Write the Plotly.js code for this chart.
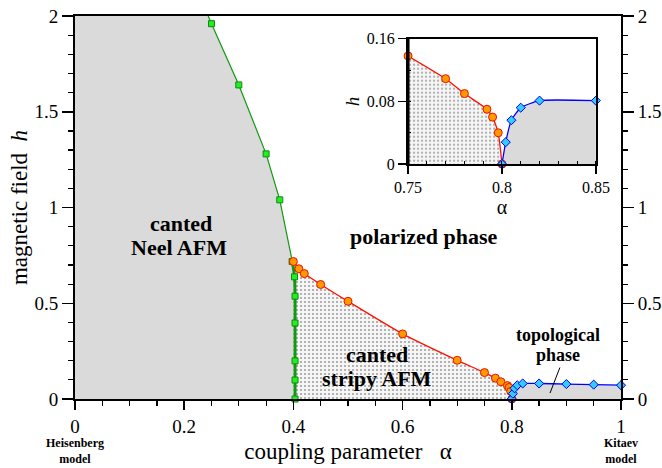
<!DOCTYPE html>
<html>
<head>
<meta charset="utf-8">
<script src="https://cdn.plot.ly/plotly-3.0.1.min.js"></script>
<style>html,body{margin:0;padding:0;background:#fff;}#chart{width:662px;height:468px;}</style>
</head>
<body>
<div id="chart"></div>
<script>
// canted Neel AFM upper boundary (first point: where the line meets the top border)
const alphaNeel = [0.244, 0.25, 0.30, 0.35, 0.375, 0.398];
const hNeel = [2.0, 1.96, 1.64, 1.28, 1.04, 0.718];
// canted Neel / canted stripy boundary (vertical)
const alphaNeelVert = [0.398, 0.402, 0.403, 0.403, 0.403, 0.403, 0.403];
const hNeelVert = [0.718, 0.638, 0.537, 0.397, 0.199, 0.099, 0];
// canted stripy AFM upper boundary
const alphaStripy = [0.40, 0.41, 0.42, 0.45, 0.50, 0.60, 0.70, 0.75, 0.77, 0.78, 0.792, 0.795, 0.798, 0.80];
const hStripy = [0.718, 0.68, 0.655, 0.598, 0.51, 0.34, 0.202, 0.138, 0.109, 0.090, 0.070, 0.060, 0.040, 0];
// topological phase boundary
const alphaTopo = [0.80, 0.802, 0.805, 0.81, 0.82, 0.85, 0.90, 0.95, 1.00];
const hTopo = [0, 0.028, 0.056, 0.072, 0.081, 0.081, 0.078, 0.075, 0.072];

const insetRange = [0.75, 0.85];
function inInset(xs, ys) {
  const ox = [], oy = [];
  xs.forEach((x, i) => { if (x >= insetRange[0] - 1e-9 && x <= insetRange[1] + 1e-9) { ox.push(x); oy.push(ys[i]); } });
  return [ox, oy];
}
const [sxI, shI] = inInset(alphaStripy, hStripy);
const [txI, thI] = inInset(alphaTopo, hTopo);

const neelFillX = alphaNeel.concat(alphaNeelVert.slice(1));
const neelFillH = hNeel.concat(hNeelVert.slice(1));

const GRAY = '#dadada';
const dotPattern = {shape: '.', size: 4, solidity: 0.22, fgcolor: '#a0a0a0', bgcolor: '#f6f6f6', fillmode: 'replace'};
const greenMarker = {symbol: 'square', size: 6, color: '#22ee22', line: {color: '#118811', width: 1}};
const redMarker = {symbol: 'circle', size: 8, color: '#ff9900', line: {color: '#ee1100', width: 1}};
const blueMarker = {symbol: 'diamond', size: 7, color: '#33ccff', line: {color: '#0000ee', width: 1}};

const traces = [
  // main fills
  {x: neelFillX, y: neelFillH, mode: 'lines', fill: 'tozerox', fillcolor: GRAY, line: {width: 0}, hoverinfo: 'skip', xaxis: 'x', yaxis: 'y'},
  {x: alphaStripy, y: hStripy, mode: 'lines', fill: 'tozeroy', fillpattern: dotPattern, fillcolor: '#f6f6f6', line: {width: 0, shape: 'spline', smoothing: 0.5}, hoverinfo: 'skip', xaxis: 'x', yaxis: 'y'},
  {x: alphaTopo, y: hTopo, mode: 'lines', fill: 'tozeroy', fillcolor: GRAY, line: {width: 0, shape: 'spline', smoothing: 0.5}, hoverinfo: 'skip', xaxis: 'x', yaxis: 'y'},
  // main lines
  {x: alphaNeel, y: hNeel, mode: 'lines', line: {color: '#119911', width: 1.2}, xaxis: 'x', yaxis: 'y'},
  {x: alphaNeelVert, y: hNeelVert, mode: 'lines', line: {color: '#119911', width: 3, shape: 'spline'}, xaxis: 'x', yaxis: 'y'},
  {x: alphaNeel.slice(1), y: hNeel.slice(1), mode: 'markers', marker: greenMarker, cliponaxis: false, xaxis: 'x', yaxis: 'y'},
  {x: alphaNeelVert, y: hNeelVert, mode: 'markers', marker: greenMarker, cliponaxis: false, xaxis: 'x', yaxis: 'y'},
  {x: alphaStripy, y: hStripy, mode: 'lines+markers', line: {color: '#ff1100', width: 1.3, shape: 'spline', smoothing: 0.5}, marker: redMarker, cliponaxis: false, xaxis: 'x', yaxis: 'y'},
  // drawn against the right-hand axis (same 0–2 scale) so that axis is rendered
  {x: alphaTopo, y: hTopo, mode: 'lines+markers', line: {color: '#0000ff', width: 1.3, shape: 'spline', smoothing: 0.5}, marker: blueMarker, cliponaxis: false, xaxis: 'x', yaxis: 'y2'},
  // inset
  {x: sxI, y: shI, mode: 'lines', fill: 'tozeroy', fillpattern: dotPattern, fillcolor: '#f6f6f6', line: {width: 0, shape: 'spline', smoothing: 0.5}, hoverinfo: 'skip', xaxis: 'x3', yaxis: 'y3'},
  {x: txI, y: thI, mode: 'lines', fill: 'tozeroy', fillcolor: GRAY, line: {width: 0, shape: 'spline', smoothing: 0.5}, hoverinfo: 'skip', xaxis: 'x3', yaxis: 'y3'},
  {x: sxI, y: shI, mode: 'lines+markers', line: {color: '#ff1100', width: 1.3, shape: 'spline', smoothing: 0.5}, marker: redMarker, cliponaxis: false, xaxis: 'x3', yaxis: 'y3'},
  {x: txI, y: thI, mode: 'lines+markers', line: {color: '#0000ff', width: 1.3, shape: 'spline', smoothing: 0.5}, marker: blueMarker, cliponaxis: false, xaxis: 'x3', yaxis: 'y3'}
];

const SERIF = 'Liberation Serif, Times New Roman, serif';
const tickFont = {family: SERIF, size: 19, color: '#000'};
const boldFont = (s) => ({family: SERIF, size: s, color: '#000'});

const layout = {
  width: 662, height: 468,
  margin: {l: 75, r: 41, t: 16, b: 69, pad: 0},
  paper_bgcolor: '#fff', plot_bgcolor: '#fff',
  showlegend: false,
  font: {family: SERIF, color: '#000'},
  xaxis: {
    range: [0, 1], dtick: 0.2, tick0: 0, showgrid: false, zeroline: false,
    showline: true, linecolor: '#000', linewidth: 2, mirror: true,
    ticks: 'outside', ticklen: 9, tickwidth: 1.5, tickcolor: '#000',
    minor: {dtick: 0.05, ticks: 'outside', ticklen: 5, tickwidth: 1.2, tickcolor: '#000', showgrid: false},
    tickfont: tickFont,
    title: {text: 'coupling parameter \u00a0\u00a0α', font: {family: SERIF, size: 23, color: '#000'}, standoff: 7},
    domain: [0, 1], anchor: 'y'
  },
  yaxis: {
    range: [0, 2], dtick: 0.5, tick0: 0, showgrid: false, zeroline: false,
    showline: true, linecolor: '#000', linewidth: 2,
    ticks: 'outside', ticklen: 11, tickwidth: 1.5, tickcolor: '#000',
    minor: {dtick: 0.1, ticks: 'outside', ticklen: 5, tickwidth: 1.2, tickcolor: '#000', showgrid: false},
    tickfont: tickFont,
    title: {text: 'magnetic field \u00a0<i>h</i>', font: {family: SERIF, size: 23, color: '#000'}, standoff: 0},
    anchor: 'x'
  },
  yaxis2: {
    range: [0, 2], dtick: 0.5, tick0: 0, overlaying: 'y', side: 'right', anchor: 'x',
    showgrid: false, zeroline: false, showline: true, linecolor: '#000', linewidth: 2,
    ticks: 'outside', ticklen: 11, tickwidth: 1.5, tickcolor: '#000',
    minor: {dtick: 0.1, ticks: 'outside', ticklen: 5, tickwidth: 1.2, tickcolor: '#000', showgrid: false},
    tickfont: tickFont
  },
  xaxis3: {
    range: insetRange, dtick: 0.05, tick0: 0.75, domain: [0.61, 0.954], anchor: 'y3',
    showgrid: false, zeroline: false, showline: true, linecolor: '#000', linewidth: 2, mirror: true,
    ticks: 'outside', ticklen: 8, tickwidth: 1.5, tickcolor: '#000',
    minor: {dtick: 0.01, ticks: 'inside', ticklen: 3, tickwidth: 1, tickcolor: '#000', showgrid: false},
    tickfont: {family: SERIF, size: 16, color: '#000'},
    title: {text: 'α', font: {family: SERIF, size: 20, color: '#000'}, standoff: 2}
  },
  yaxis3: {
    range: [0, 0.16], dtick: 0.08, tick0: 0, domain: [0.6133, 0.9407], anchor: 'x3',
    showgrid: false, zeroline: false, showline: true, linecolor: '#000', linewidth: 2, mirror: true,
    ticks: 'outside', ticklen: 8, tickwidth: 1.5, tickcolor: '#000',
    minor: {dtick: 0.04, ticks: 'inside', ticklen: 3, tickwidth: 1, tickcolor: '#000', showgrid: false},
    tickfont: {family: SERIF, size: 16, color: '#000'},
    title: {text: '<i>h</i>', font: {family: SERIF, size: 19, color: '#000'}, standoff: 2}
  },
  shapes: [
    {type: 'line', xref: 'x', yref: 'y', x0: 0.888, y0: 0.164, x1: 0.870, y1: 0.031, line: {color: '#000', width: 1}},
    {type: 'line', xref: 'x3 domain', yref: 'y3 domain', x0: 0, y0: 0, x1: 0, y1: 1, line: {color: '#000', width: 3}}
  ],
  annotations: [
    {text: '<b>canted</b>', xref: 'x', yref: 'y', x: 0.194, y: 0.917, showarrow: false, font: boldFont(22)},
    {text: '<b>Neel AFM</b>', xref: 'x', yref: 'y', x: 0.190, y: 0.793, showarrow: false, font: boldFont(22)},
    {text: '<b>polarized phase</b>', xref: 'x', yref: 'y', x: 0.639, y: 0.85, showarrow: false, font: boldFont(22)},
    {text: '<b>canted</b>', xref: 'x', yref: 'y', x: 0.553, y: 0.232, showarrow: false, font: boldFont(22)},
    {text: '<b>stripy AFM</b>', xref: 'x', yref: 'y', x: 0.553, y: 0.108, showarrow: false, font: boldFont(22)},
    {text: '<b>topological</b>', xref: 'x', yref: 'y', x: 0.8855, y: 0.335, showarrow: false, font: boldFont(18)},
    {text: '<b>phase</b>', xref: 'x', yref: 'y', x: 0.8855, y: 0.23, showarrow: false, font: boldFont(18)},
    {text: '<b>Heisenberg<br>model</b>', xref: 'paper', yref: 'paper', x: 0, y: -0.1775, xanchor: 'center', yanchor: 'bottom', align: 'center', borderpad: 0, showarrow: false, font: boldFont(12)},
    {text: '<b>Kitaev<br>model</b>', xref: 'paper', yref: 'paper', x: 1, y: -0.1775, xanchor: 'center', yanchor: 'bottom', align: 'center', borderpad: 0, showarrow: false, font: boldFont(12)}
  ]
};

Plotly.newPlot('chart', traces, layout, {displayModeBar: false, staticPlot: true});
</script>
</body>
</html>
